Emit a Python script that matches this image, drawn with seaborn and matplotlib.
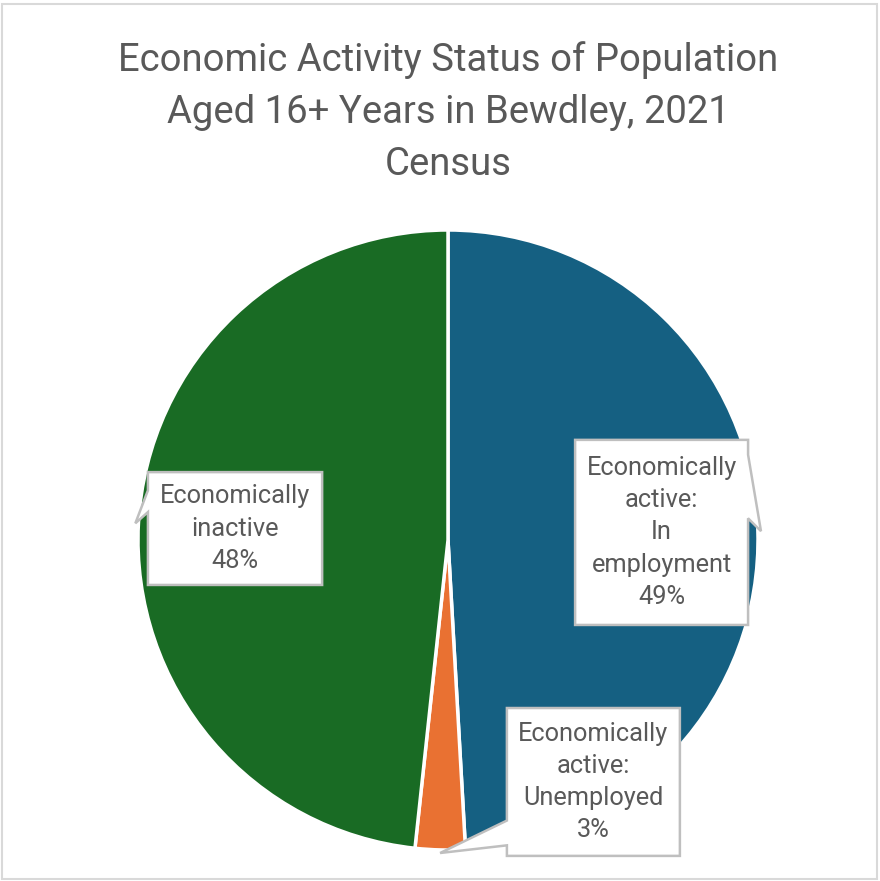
import numpy as np
import matplotlib
matplotlib.use("Agg")
import matplotlib.pyplot as plt
from matplotlib.patches import Polygon, Rectangle
import seaborn as sns

# Economic activity status, Bewdley 2021 census (share of residents aged 16+)
categories = ["Economically active: In employment",
              "Economically active: Unemployed",
              "Economically inactive"]
label_lines = [["Economically", "active:", "In", "employment"],
               ["Economically", "active:", "Unemployed"],
               ["Economically", "inactive"]]
shares = [49.1, 2.6, 48.3]
colors = ["#156082", "#E97132", "#196B24"]

title = "Economic Activity Status of Population\nAged 16+ Years in Bewdley, 2021\nCensus"

sns.set_theme(style="white")
plt.rcParams["font.family"] = ["Roboto", "DejaVu Sans"]
palette = sns.color_palette(colors)

W, H = 880, 881
fig = plt.figure(figsize=(W / 100, H / 100), dpi=100)
fig.patch.set_facecolor("white")

cx, cy, R = 448, 540, 310
ax = fig.add_axes([(cx - R) / W, (H - cy - R) / H, 2 * R / W, 2 * R / H])

wedges, _ = ax.pie(shares, colors=palette, startangle=90, counterclock=False,
                   radius=1, wedgeprops=dict(edgecolor="white", linewidth=2.5))
ax.set_xlim(-1, 1)
ax.set_ylim(-1, 1)
ax.set_aspect("equal")
ax.axis("off")

TXT = "#595959"
BORDER = "#BFBFBF"

# label box geometry in data units: (x0, x1, y0, y1), side of pointer, pointer base span
boxes = [
    ((0.41, 0.968, -0.274, 0.323), "right", (0.275, 0.07)),
    ((0.19, 0.748, -1.019, -0.542), "left", (-0.905, -0.985)),
    ((-0.968, -0.406, -0.145, 0.219), "left", (0.16, 0.09)),
]


def callout(box, side, base, tip):
    x0, x1, y0, y1 = box
    b0, b1 = base
    if side == "right":
        pts = [(x0, y1), (x1, y1), (x1, b0), tip, (x1, b1), (x1, y0), (x0, y0)]
    else:
        pts = [(x0, y1), (x1, y1), (x1, y0), (x0, y0), (x0, min(b0, b1)), tip,
               (x0, max(b0, b1))]
    ax.add_patch(Polygon(pts, closed=True, facecolor="white", edgecolor=BORDER,
                         linewidth=1.8, clip_on=False, zorder=5, joinstyle="miter"))


for w, lines, val, (box, side, base) in zip(wedges, label_lines, shares, boxes):
    mid = np.deg2rad((w.theta1 + w.theta2) / 2)
    tip = (np.cos(mid) * 1.01, np.sin(mid) * 1.01)
    callout(box, side, base, tip)
    x0, x1, y0, y1 = box
    label = "\n".join(lines + [f"{round(val):d}%"])
    ax.text((x0 + x1) / 2, (y0 + y1) / 2, label, ha="center", va="center",
            fontsize=18.3, color=TXT, linespacing=1.43, zorder=6, clip_on=False)

fig.text(448 / W, 1 - 112 / H, title, ha="center", va="center", fontsize=27.5,
         color=TXT, linespacing=1.52)

fig.add_artist(Rectangle((0.002, 0.002), 0.995, 0.994, transform=fig.transFigure,
                         fill=False, edgecolor="#D9D9D9", linewidth=1.5))

fig.savefig("out.png", dpi=100, facecolor="white")
